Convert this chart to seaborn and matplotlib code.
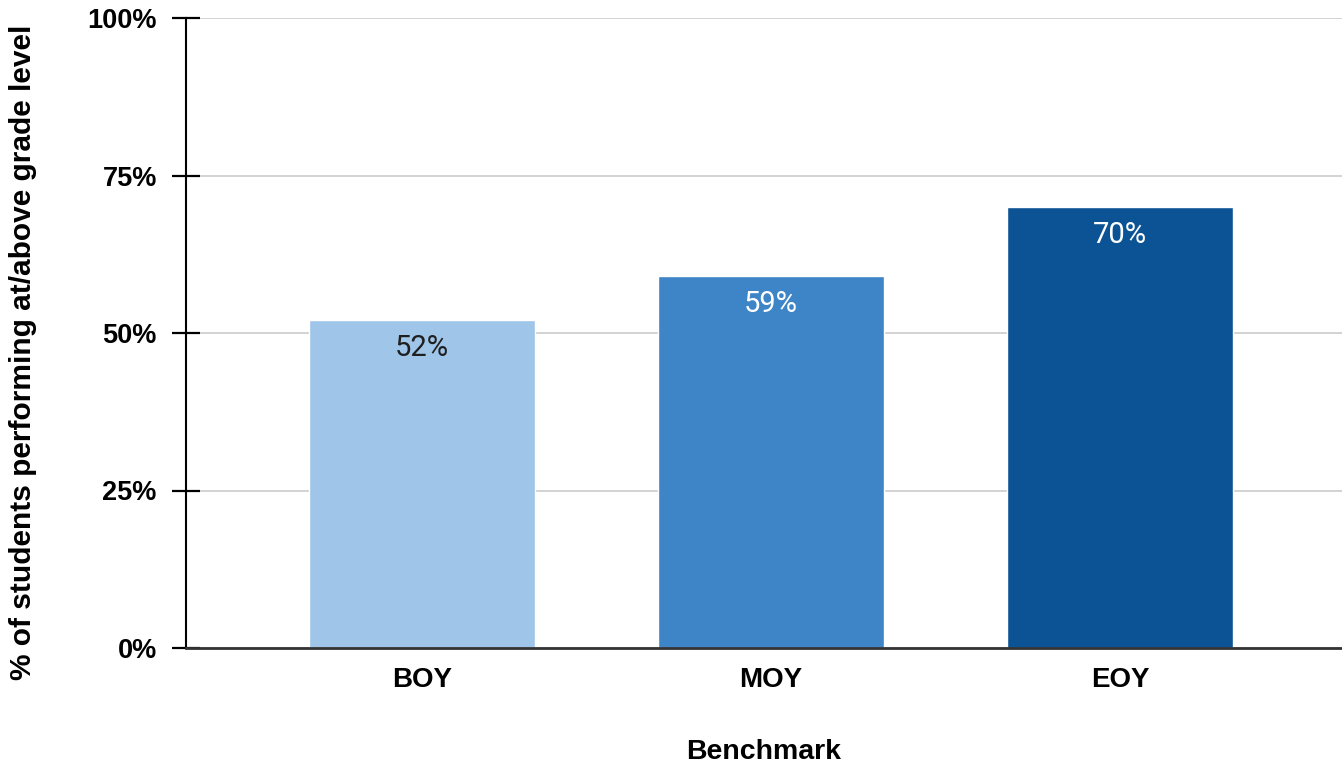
import matplotlib
matplotlib.use("Agg")
import matplotlib.pyplot as plt
import seaborn as sns
import pandas as pd
from matplotlib.ticker import PercentFormatter

# data
benchmarks = ["BOY", "MOY", "EOY"]
pct_at_level = [52, 59, 70]
bar_colors = ["#9fc5e8", "#3d85c6", "#0b5394"]
label_colors = ["#1f1f1f", "white", "white"]

df = pd.DataFrame({"Benchmark": benchmarks, "pct": pct_at_level})

sns.set_style("white")
plt.rcParams["font.family"] = ["Liberation Sans", "DejaVu Sans"]

fig = plt.figure(figsize=(13.42, 7.66), dpi=100)
ax = fig.add_axes([186 / 1342, 118 / 766, 1156 / 1342, 630 / 766])

sns.barplot(
    data=df, x="Benchmark", y="pct", hue="Benchmark",
    palette=bar_colors, legend=False, width=0.65, ax=ax,
    saturation=1, zorder=3,
)

# bar labels inside the top of each bar
for i, (v, c) in enumerate(zip(pct_at_level, label_colors)):
    ax.annotate(f"{v}%", (i, v), xytext=(0, -20), textcoords="offset points",
                ha="center", va="center", color=c, fontsize=21,
                family=["Roboto", "DejaVu Sans"])

ax.set_ylim(0, 100)
ax.set_xlim(-0.676, 2.636)
ax.set_yticks([0, 25, 50, 75, 100])
ax.yaxis.set_major_formatter(PercentFormatter(decimals=0))
ax.yaxis.grid(True, color="#cccccc", linewidth=1.2, zorder=0)
ax.set_axisbelow(True)

for s in ["top", "right"]:
    ax.spines[s].set_visible(False)
ax.spines["left"].set_color("black")
ax.spines["left"].set_linewidth(1.5)
ax.spines["left"].set_zorder(5)
ax.spines["bottom"].set_color("#333333")
ax.spines["bottom"].set_linewidth(2)
ax.spines["bottom"].set_zorder(5)

ax.tick_params(axis="y", left=True, direction="inout", length=20, width=1.6,
               pad=11, labelsize=19.5, colors="black")
ax.tick_params(axis="x", length=0, pad=13.5, labelsize=20, labelcolor="black")
for lab in ax.get_xticklabels() + ax.get_yticklabels():
    lab.set_fontweight("bold")

ax.set_xlabel("Benchmark", fontsize=20.5, fontweight="bold", labelpad=33,
              color="black")
ax.set_ylabel("% of students performing at/above grade level", fontsize=21.5,
              fontweight="bold", color="black")
ax.yaxis.set_label_coords(-0.129, 0.47)

fig.savefig("out.png", dpi=100)
